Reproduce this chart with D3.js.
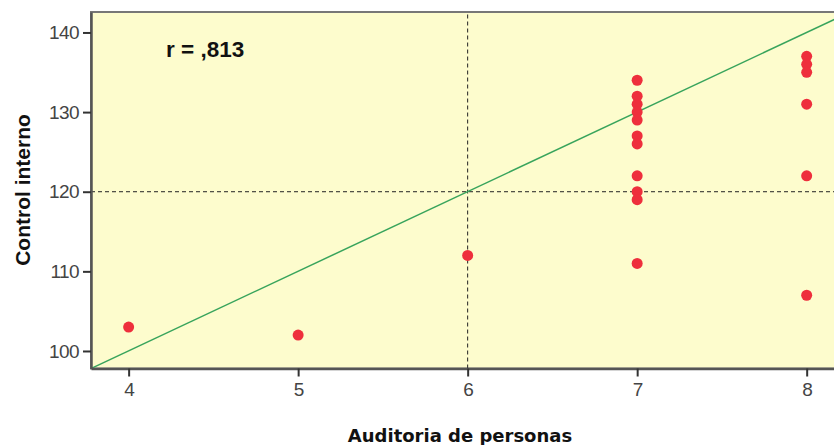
<!DOCTYPE html>
<html>
<head>
<meta charset="utf-8">
<script src="https://cdn.jsdelivr.net/npm/d3@7"></script>
<style>
  body { margin: 0; background: #fff; }
  svg { display: block; }
</style>
</head>
<body>
<div id="chart"></div>
<script>
// data
var xVals = [4, 5, 6, 7, 7, 7, 7, 7, 7, 7, 7, 7, 7, 7, 8, 8, 8, 8, 8, 8];
var yVals = [103, 102, 112, 134, 132, 131, 130, 129, 127, 126, 122, 120, 119, 111, 137, 136, 135, 131, 122, 107];
var xTicks = [4, 5, 6, 7, 8];
var yTicks = [100, 110, 120, 130, 140];
// fit line end points
var fitX = [3.778, 8.2];
var fitY = [97.8, 142];
// reference lines
var refX = 6;
var refY = 120;
var rLabel = "r = ,813";

var width = 834, height = 445;
var margin = { top: 12, right: -2, bottom: 76, left: 91 };

var svg = d3.select("#chart").append("svg")
    .attr("width", width)
    .attr("height", height);

var x = d3.scaleLinear()
    .domain([3.778, 8.173])
    .range([margin.left, width - margin.right]);

var y = d3.scaleLinear()
    .domain([97.8, 142.57])
    .range([height - margin.bottom - 0.5, margin.top]);

svg.append("clipPath").attr("id", "plot")
    .append("rect")
    .attr("x", margin.left)
    .attr("y", margin.top)
    .attr("width", x.range()[1] - margin.left)
    .attr("height", y.range()[0] - margin.top);

// plot background
svg.append("rect")
    .attr("x", margin.left)
    .attr("y", margin.top)
    .attr("width", x.range()[1] - margin.left)
    .attr("height", y.range()[0] - margin.top)
    .attr("fill", "#fdfccd")
    .attr("stroke", "#777")
    .attr("stroke-width", 2);

var g = svg.append("g").attr("clip-path", "url(#plot)");

// reference lines
g.append("line")
    .attr("x1", x(refX)).attr("x2", x(refX))
    .attr("y1", y.range()[0]).attr("y2", margin.top)
    .attr("stroke", "#222").attr("stroke-width", 1)
    .attr("stroke-dasharray", "4,3");

g.append("line")
    .attr("x1", margin.left).attr("x2", x.range()[1])
    .attr("y1", y(refY)).attr("y2", y(refY))
    .attr("stroke", "#222").attr("stroke-width", 1)
    .attr("stroke-dasharray", "4,3");

// fit line
g.append("line")
    .attr("x1", x(fitX[0])).attr("y1", y(fitY[0]))
    .attr("x2", x(fitX[1])).attr("y2", y(fitY[1]))
    .attr("stroke", "#38a45c").attr("stroke-width", 1.5);

// points
g.selectAll("circle.pt")
    .data(xVals.map(function(d, i) { return { x: d, y: yVals[i] }; }))
    .enter().append("circle")
    .attr("class", "pt")
    .attr("cx", function(d) { return x(d.x); })
    .attr("cy", function(d) { return y(d.y); })
    .attr("r", 5.5)
    .attr("fill", "#ee2f3c");

// axes
var xAxis = svg.append("g")
    .attr("transform", "translate(0," + y.range()[0] + ")")
    .call(d3.axisBottom(x).tickValues(xTicks).tickFormat(d3.format("d"))
        .tickSize(8).tickSizeOuter(0).tickPadding(6));

var yAxis = svg.append("g")
    .attr("transform", "translate(" + margin.left + ",0)")
    .call(d3.axisLeft(y).tickValues(yTicks).tickFormat(d3.format("d"))
        .tickSize(8).tickSizeOuter(0).tickPadding(4));

[xAxis, yAxis].forEach(function(a) {
    a.select(".domain").attr("stroke", "#555").attr("stroke-width", 2.5);
    a.selectAll(".tick line").attr("stroke", "#333").attr("stroke-width", 2);
    a.selectAll(".tick text")
        .attr("fill", "#444")
        .style("font-family", "'Liberation Sans', Arial, sans-serif")
        .style("font-size", "19px")
        .style("letter-spacing", "-0.6px");
});

// axis titles
svg.append("text")
    .attr("x", 460)
    .attr("y", 442)
    .attr("text-anchor", "middle")
    .style("font-family", "'DejaVu Sans', sans-serif")
    .style("font-weight", "bold")
    .style("font-size", "18px")
    .attr("fill", "#111")
    .text("Auditoria de personas");

svg.append("text")
    .attr("transform", "translate(30,190) rotate(-90)")
    .attr("text-anchor", "middle")
    .style("font-family", "'Liberation Sans', Arial, sans-serif")
    .style("font-weight", "bold")
    .style("font-size", "21px")
    .attr("fill", "#111")
    .text("Control interno");

// correlation label
svg.append("text")
    .attr("x", 166)
    .attr("y", 57)
    .style("font-family", "'Liberation Sans', Arial, sans-serif")
    .style("font-weight", "bold")
    .style("font-size", "22.5px")
    .attr("fill", "#111")
    .text(rLabel);
</script>
</body>
</html>
